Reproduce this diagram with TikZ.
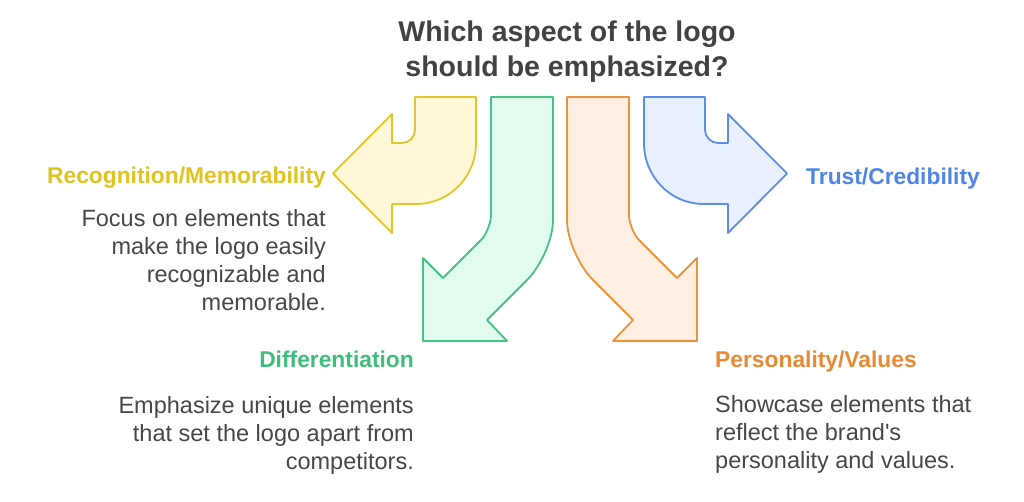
\documentclass[tikz,border=0pt]{standalone}
\usepackage{fontspec}
\setmainfont{Liberation Sans}
\definecolor{titlec}{HTML}{424242}
\definecolor{bodyc}{HTML}{474747}
\definecolor{ylw}{HTML}{E2C52A}
\definecolor{ylwf}{HTML}{FFF7D8}
\definecolor{ylwt}{HTML}{E0C31E}
\definecolor{grn}{HTML}{45C384}
\definecolor{grnf}{HTML}{E1FBEF}
\definecolor{grnt}{HTML}{3DBE7A}
\definecolor{org}{HTML}{E8923C}
\definecolor{orgf}{HTML}{FEEFE2}
\definecolor{orgt}{HTML}{E68A35}
\definecolor{blu}{HTML}{5B8DE6}
\definecolor{bluf}{HTML}{E9F0FD}
\definecolor{blut}{HTML}{4F86E3}
\begin{document}
\begin{tikzpicture}[x=1pt,y=-1pt,
  arrowshape/.style={line width=1.8pt, line join=round},
  titletext/.style={inner sep=0pt, align=center, text=titlec, font=\fontsize{28.5}{35}\selectfont\bfseries},
  labeltext/.style={inner sep=0pt, font=\fontsize{22.8}{27}\selectfont\bfseries},
  bodytext/.style={inner sep=0pt, text=bodyc, font=\fontsize{23.5}{27.8}\selectfont}]
\useasboundingbox[fill=white] (0,0) rectangle (1024,502);
% yellow arrow (left)
\draw[arrowshape, draw=ylw, fill=ylwf] (415,97) -- (476,97) -- (476,143)
  .. controls (476,176.7) and (449.7,204) .. (416,204) -- (392,204) -- (392,233)
  -- (333,173.5) -- (392,114) -- (392,143) -- (402,143)
  .. controls (409,143) and (415,137) .. (415,130) -- cycle;
% blue arrow (right)
\draw[arrowshape, draw=blu, fill=bluf] (705,97) -- (644,97) -- (644,143)
  .. controls (644,176.7) and (670.3,204) .. (704,204) -- (728,204) -- (728,233)
  -- (787,173.5) -- (728,114) -- (728,143) -- (718,143)
  .. controls (711,143) and (705,137) .. (705,130) -- cycle;
% green arrow
\draw[arrowshape, draw=grn, fill=grnf] (491,97) -- (553,97) -- (553,220)
  .. controls (553,239) and (541,266) .. (527,280) -- (487,320) -- (507,341)
  -- (423,341) -- (423,258) -- (443,278) -- (481,240)
  .. controls (486,235) and (491,223) .. (491,215) -- cycle;
% orange arrow
\draw[arrowshape, draw=org, fill=orgf] (629,97) -- (567,97) -- (567,220)
  .. controls (567,239) and (579,266) .. (593,280) -- (633,320) -- (613,341)
  -- (697,341) -- (697,258) -- (677,278) -- (639,240)
  .. controls (634,235) and (629,223) .. (629,215) -- cycle;
% title (base anchor = last line baseline)
\node[titletext, anchor=base] (title) at (567,77) {Which aspect of the logo\\should be emphasized?};
% labels
\node[labeltext, text=ylwt, anchor=base east] (rec) at (326,184) {Recognition/Memorability};
\node[bodytext, align=right, anchor=base east] (recb) at (326,310) {Focus on elements that\\make the logo easily\\recognizable and\\memorable.};
\node[labeltext, text=blut, anchor=base west] (tru) at (806,185) {Trust/Credibility};
\node[labeltext, text=grnt, anchor=base east] (dif) at (414,367) {Differentiation};
\node[bodytext, align=right, anchor=base east] (difb) at (414,469) {Emphasize unique elements\\that set the logo apart from\\competitors.};
\node[labeltext, text=orgt, anchor=base west] (per) at (715,367) {Personality/Values};
\node[bodytext, align=left, anchor=base west] (perb) at (715,468) {Showcase elements that\\reflect the brand\textquotesingle s\\personality and values.};
\end{tikzpicture}
\end{document}
